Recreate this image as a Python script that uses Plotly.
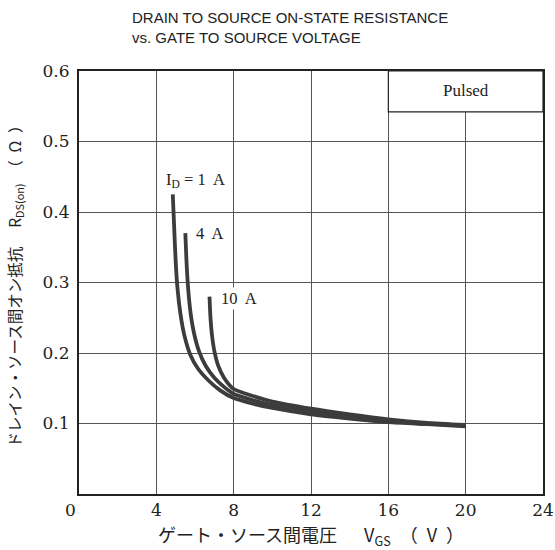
import plotly.graph_objects as go

# Data
vgs_1a = [4.85, 4.92, 5.0, 5.1, 5.25, 5.45, 5.75, 6.15, 6.7, 7.3, 8.0, 9.0, 10.0, 12.0, 14.0, 16.0, 18.0, 20.0]
rds_1a = [0.425, 0.38, 0.33, 0.29, 0.255, 0.225, 0.198, 0.178, 0.161, 0.147, 0.136, 0.128, 0.122, 0.113, 0.107, 0.102, 0.099, 0.096]

vgs_4a = [5.5, 5.56, 5.65, 5.78, 5.95, 6.2, 6.55, 7.0, 7.5, 8.0, 9.0, 10.0, 12.0, 14.0, 16.0, 18.0, 20.0]
rds_4a = [0.37, 0.33, 0.29, 0.255, 0.228, 0.203, 0.182, 0.165, 0.152, 0.142, 0.133, 0.126, 0.117, 0.110, 0.104, 0.100, 0.097]

vgs_10a = [6.75, 6.8, 6.88, 7.0, 7.2, 7.5, 8.0, 9.0, 10.0, 12.0, 14.0, 16.0, 18.0, 20.0]
rds_10a = [0.28, 0.25, 0.225, 0.203, 0.182, 0.165, 0.149, 0.139, 0.131, 0.121, 0.113, 0.106, 0.101, 0.098]

curve_labels = ["I<sub>D</sub> = 1  A", "4  A", "10  A"]
label_x = [6.05, 6.8, 8.3]
label_y = [0.445, 0.37, 0.278]

x_ticks = [0, 4, 8, 12, 16, 20, 24]
x_tick_text = ["0\u2003", "4", "8", "12", "16", "20", "24"]
y_ticks = [0.1, 0.2, 0.3, 0.4, 0.5, 0.6]
y_tick_text = ["0.1", "0.2", "0.3", "0.4", "0.5", "0.6"]

line_color = "#3c3c3c"
serif = "Liberation Serif, DejaVu Serif, serif"
tick_serif = "DejaVu Serif, Liberation Serif, serif"
cjk = "Noto Sans CJK JP, Liberation Serif, serif"

fig = go.Figure()
for xs, ys in [(vgs_1a, rds_1a), (vgs_4a, rds_4a), (vgs_10a, rds_10a)]:
    fig.add_trace(go.Scatter(x=xs, y=ys, mode="lines",
                             line=dict(color=line_color, width=3.8, shape="spline", smoothing=0.6),
                             hoverinfo="skip", showlegend=False))

for t, lx, ly in zip(curve_labels, label_x, label_y):
    fig.add_annotation(x=lx, y=ly, text=t, showarrow=False,
                       font=dict(family=serif, size=16.5, color="#222"),
                       bgcolor="white", xanchor="center", yanchor="middle")

# Pulsed box
fig.add_shape(type="rect", x0=16, x1=24, y0=0.542, y1=0.6, xref="x", yref="y",
              fillcolor="white", line=dict(color="#222", width=1.2), layer="between")
fig.add_annotation(x=20, y=0.572, text="Pulsed", showarrow=False,
                   font=dict(family=serif, size=17, color="#222"))

fig.update_layout(
    width=555, height=550,
    margin=dict(l=79, r=12, t=71, b=56, autoexpand=False),
    paper_bgcolor="white", plot_bgcolor="white",
    title=dict(text="DRAIN TO SOURCE ON-STATE RESISTANCE<br>vs. GATE TO SOURCE VOLTAGE",
               x=132/555, xanchor="left", y=0.958, yanchor="top",
               font=dict(family="Liberation Sans Narrow, Liberation Sans, Arial, sans-serif", size=15, color="#222")),
)
fig.update_xaxes(range=[0, 24], tickvals=x_ticks, ticktext=x_tick_text,
                 showgrid=True, gridcolor="#555", gridwidth=1,
                 showline=True, linecolor="#222", linewidth=2, mirror=True,
                 ticks="", zeroline=False, ticklabelstandoff=0, automargin=False,
                 tickfont=dict(family=tick_serif, size=17, color="#222"),
                 title=dict(text="ゲート・ソース間電圧\u2003\u2002V<sub>GS</sub>\u2002（\u2002V\u2002）",
                            font=dict(family=cjk, size=18, color="#222"), standoff=10))
fig.update_yaxes(range=[0, 0.6], tickvals=y_ticks, ticktext=y_tick_text,
                 showgrid=True, gridcolor="#555", gridwidth=1,
                 showline=True, linecolor="#222", linewidth=2, mirror=True,
                 ticks="", zeroline=False, ticklabelstandoff=4, automargin=False,
                 tickfont=dict(family=tick_serif, size=17, color="#222"),
                 title=dict(text="ドレイン・ソース間オン抵抗\u2003 R<sub>DS(on)</sub>\u2002（\u2002Ω\u2002）",
                            font=dict(family=cjk, size=15.5, color="#222"), standoff=17))

fig.write_html("out.html", config={"displayModeBar": False},
               post_script="document.body.style.margin='0px';")
